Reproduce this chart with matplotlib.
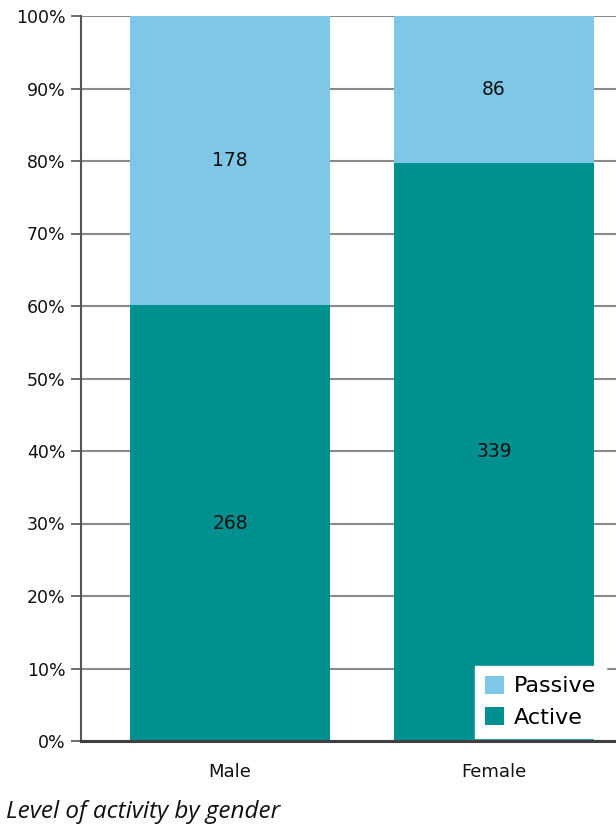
import matplotlib
matplotlib.use("Agg")
import matplotlib.pyplot as plt
import numpy as np

categories = ["Male", "Female"]
active = [268, 339]
passive = [178, 86]
yticks = [0, 10, 20, 30, 40, 50, 60, 70, 80, 90, 100]

c_active = "#009090"
c_passive = "#7EC7E6"

fig = plt.figure(figsize=(6.16, 8.26), dpi=100)
ax = fig.add_axes([81/616, 85/826, (643-81)/616, (741-16)/826])

act = np.array(active, float)
pas = np.array(passive, float)
tot = act + pas
act_p = act / tot * 100
pas_p = pas / tot * 100
x = np.arange(len(categories))
w = 0.758

ax.set_axisbelow(True)
ax.yaxis.grid(True, color="#8a8a8a", linewidth=1.5)
b1 = ax.bar(x, act_p, width=w, color=c_active, label="Active", zorder=2)
b2 = ax.bar(x, pas_p, width=w, bottom=act_p, color=c_passive, label="Passive", zorder=2)

for i in range(len(categories)):
    ax.text(x[i], act_p[i] / 2, str(active[i]), ha="center", va="center",
            fontsize=13.5, color="#111111", zorder=3)
    ax.text(x[i], act_p[i] + pas_p[i] / 2, str(passive[i]), ha="center", va="center",
            fontsize=13.5, color="#111111", zorder=3)

ax.set_xlim(-0.564, 1.564)
ax.set_ylim(0, 100)
ax.set_yticks(yticks)
ax.set_yticklabels([f"{v}%" for v in yticks], fontsize=12.5, color="#111111")
ax.set_xticks(x)
ax.set_xticklabels(categories, fontsize=13, color="#111111")
ax.tick_params(axis="x", length=0, pad=16)
ax.tick_params(axis="y", direction="out", length=7, width=1.2, color="#555555", pad=4)

for s in ["top", "right"]:
    ax.spines[s].set_visible(False)
ax.spines["left"].set_color("#555555")
ax.spines["left"].set_linewidth(1.5)
ax.spines["bottom"].set_color("#404040")
ax.spines["bottom"].set_linewidth(2.2)
ax.spines["bottom"].set_zorder(4)

leg = fig.legend(handles=[b2, b1], labels=["Passive", "Active"], loc="lower left",
                 bbox_to_anchor=(475/616, 88/826), frameon=True, fancybox=False,
                 fontsize=16, handlelength=0.85, handleheight=0.85, handletextpad=0.45,
                 borderpad=0.45, labelspacing=0.5, borderaxespad=0)
leg.get_frame().set_facecolor("white")
leg.get_frame().set_edgecolor("white")
leg.get_frame().set_alpha(1)

fig.text(6/616, 1 - 812/826, "Level of activity by gender", fontsize=17.5,
         style="italic", family="Open Sans", va="center", ha="left", color="#111111")

fig.savefig("out.png", dpi=100)
